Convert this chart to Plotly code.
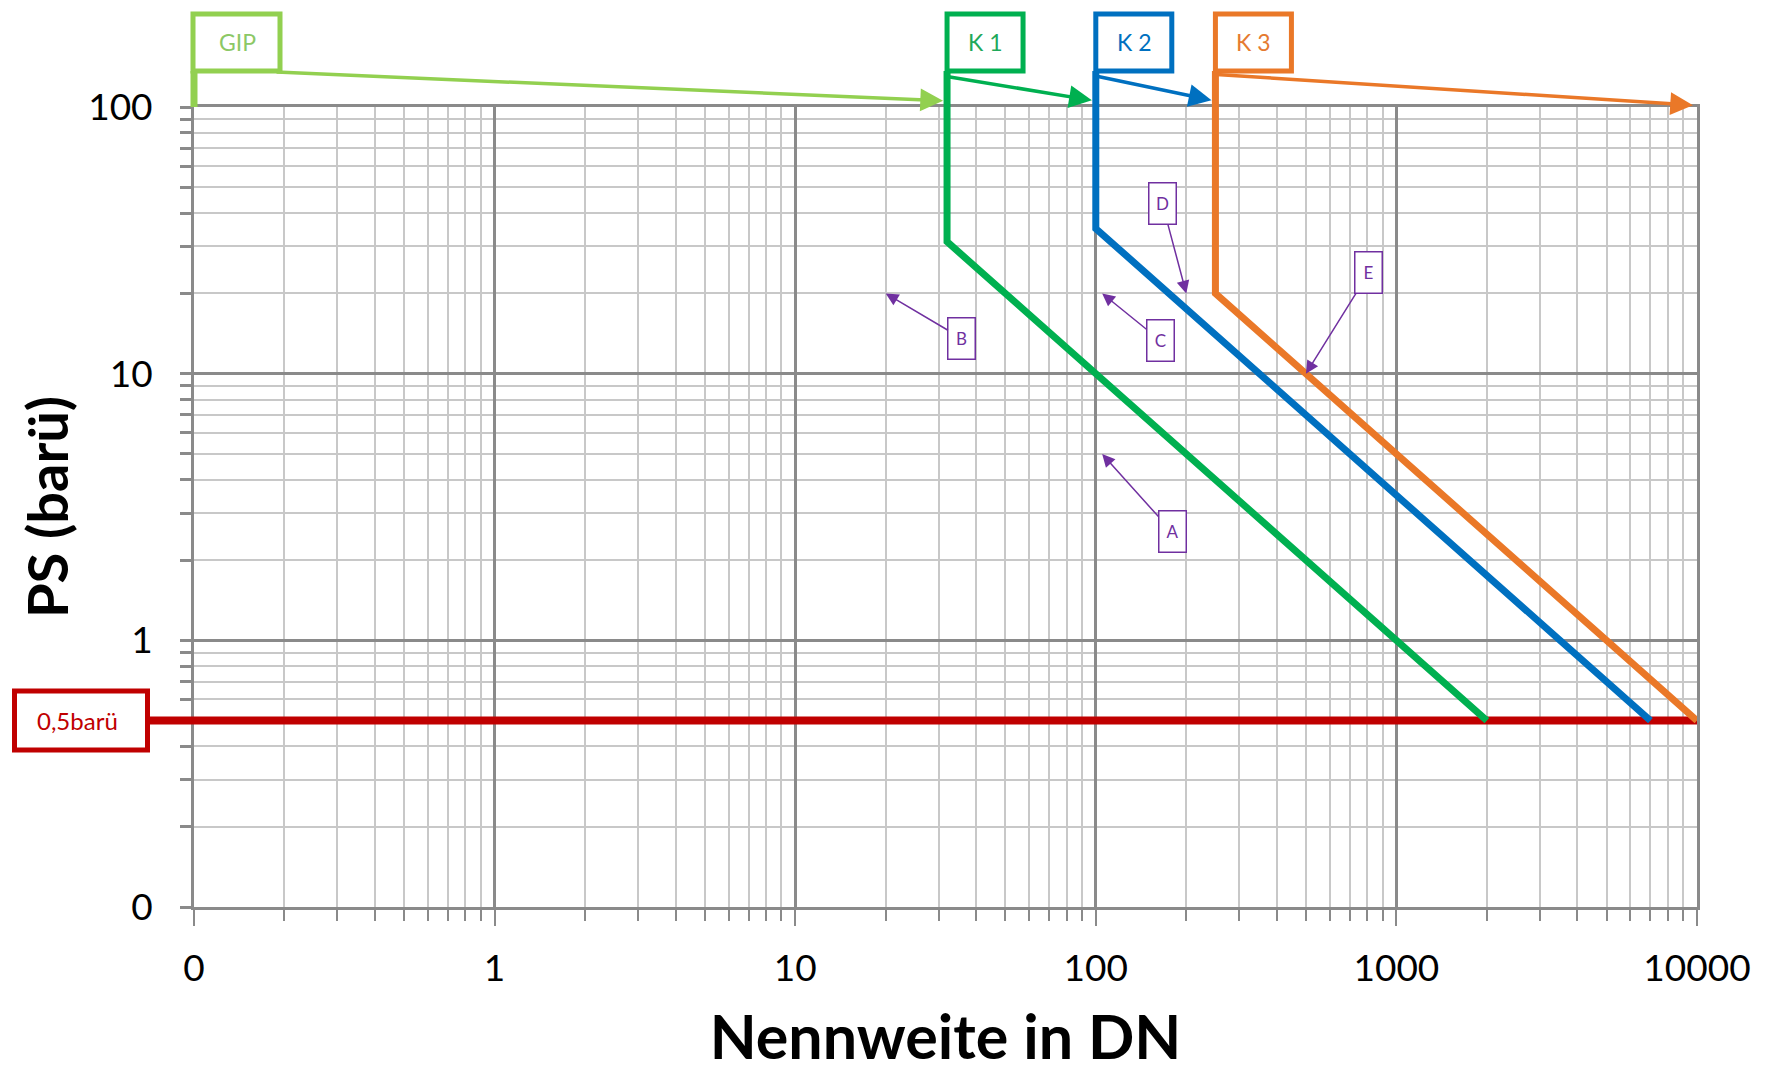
import math
import plotly.graph_objects as go

# ---------------- data ----------------
DN_K1 = [32, 32, 2000]
PS_K1 = [100, 31.25, 0.5]
DN_K2 = [100, 100, 7000]
PS_K2 = [100, 35, 0.5]
DN_K3 = [250, 250, 10000]
PS_K3 = [100, 20, 0.5]
DN_LIMIT = [0.1, 10000]
PS_LIMIT = [0.5, 0.5]

X_TICKS = [0.1, 1, 10, 100, 1000, 10000]
X_TICK_TEXT = ["0", "1", "10", "100", "1000", "10000"]
Y_TICKS = [0.1, 1, 10, 100]
Y_TICK_TEXT = ["0", "1", "10", "100"]

CAT_LABELS = ["GIP", "K 1", "K 2", "K 3"]
CAT_DN = [0.1, 32, 100, 250]          # where each category starts
CAT_ARROW_TO = [32, 100, 250, 10000]   # where each category's arrow points

MARK_LABELS = ["A", "B", "C", "D", "E"]
MARK_DN = [105, 20, 105, 200, 500]
MARK_PS = [5, 20, 20, 20, 10]

LIMIT_LABEL = "0,5barü"

# ---------------- style ----------------
FONT = "Lato"
C_GIP = "#92D050"
C_K1 = "#00B050"
C_K2 = "#0070C0"
C_K3 = "#EA7828"
C_RED = "#C00000"
C_PURPLE = "#7030A0"
CAT_COLORS = [C_GIP, C_K1, C_K2, C_K3]
CAT_TEXT_COLORS = ["#8CC866", "#1FA85A", "#0070C0", "#E57A30"]
CAT_BOX_W = [86, 76, 76, 76]
MAJOR_GRID = "#8a8a8a"
MINOR_GRID = "#c8c8c8"

Y_RANGE = [-1, 2]

minor_x = [m * 10 ** e for e in range(-1, 4) for m in range(2, 10)]
minor_y = [m * 10 ** e for e in range(-1, 2) for m in range(2, 10)]

fig = go.Figure()
fig.add_trace(go.Scatter(x=DN_LIMIT, y=PS_LIMIT, mode="lines",
                         line=dict(color=C_RED, width=8), hoverinfo="skip"))
for dn, ps, col in [(DN_K1, PS_K1, C_K1), (DN_K2, PS_K2, C_K2), (DN_K3, PS_K3, C_K3)]:
    fig.add_trace(go.Scatter(x=dn, y=ps, mode="lines",
                             line=dict(color=col, width=7), hoverinfo="skip"))

shapes = []
annotations = []

# category flags above the plot
for i, (lab, dn) in enumerate(zip(CAT_LABELS, CAT_DN)):
    col = CAT_COLORS[i]
    if i == 0:
        xr, xa = "paper", 0
    else:
        xr, xa = "x", dn
    w = CAT_BOX_W[i]
    shapes.append(dict(type="line", xref=xr, yref="paper",
                       xsizemode="pixel", xanchor=xa, x0=0, x1=0,
                       ysizemode="pixel", yanchor=1, y0=0, y1=36,
                       line=dict(color=col, width=7)))
    shapes.append(dict(type="rect", xref=xr, yref="paper",
                       xsizemode="pixel", xanchor=xa, x0=-1, x1=w,
                       ysizemode="pixel", yanchor=1, y0=36, y1=93,
                       line=dict(color=col, width=5), fillcolor="white"))
    annotations.append(dict(text=lab, xref="x", x=math.log10(dn), xanchor="center",
                            xshift=w / 2, yref="paper", y=1, yanchor="middle", yshift=65,
                            showarrow=False,
                            font=dict(family=FONT, size=23, color=CAT_TEXT_COLORS[i])))

# category arrows
arrow_geo = [(-672, -29, 1.0075), (-152, -25, 1.0075), (-120, -25, 1.0075), (-482, -31, 1.002)]
for i, tgt in enumerate(CAT_ARROW_TO):
    ax_, ay_, yy = arrow_geo[i]
    annotations.append(dict(text="", xref="x", x=math.log10(tgt), yref="paper", y=yy,
                            showarrow=True, ax=ax_, ay=ay_, arrowhead=2, arrowsize=1.3,
                            arrowwidth=3.5, arrowcolor=CAT_COLORS[i], standoff=4))

# 0,5 barü label at the left
limit_frac = (math.log10(PS_LIMIT[0]) - Y_RANGE[0]) / (Y_RANGE[1] - Y_RANGE[0])
shapes.append(dict(type="rect", xref="paper", yref="paper",
                   xsizemode="pixel", xanchor=0, x0=-179.5, x1=-46.5,
                   ysizemode="pixel", yanchor=limit_frac, y0=-29.5, y1=29.5,
                   line=dict(color=C_RED, width=5), fillcolor="white"))
shapes.append(dict(type="line", xref="paper", yref="y",
                   xsizemode="pixel", xanchor=0, x0=-46.5, x1=0,
                   y0=PS_LIMIT[0], y1=PS_LIMIT[0],
                   line=dict(color=C_RED, width=8)))
annotations.append(dict(text=LIMIT_LABEL, xref="paper", x=0, xshift=-117, xanchor="center",
                        yref="paper", y=limit_frac, yanchor="middle",
                        showarrow=False, font=dict(family=FONT, size=24, color=C_RED)))

# A..E callouts
mark_off = [(70, 78), (76, 45), (58, 47), (-24, -90), (63, -101)]
for lab, dn, ps, (ax_, ay_) in zip(MARK_LABELS, MARK_DN, MARK_PS, mark_off):
    annotations.append(dict(text=lab, xref="x", x=math.log10(dn), yref="y", y=math.log10(ps),
                            showarrow=True, ax=ax_, ay=ay_, arrowhead=2, arrowsize=1.7,
                            arrowwidth=1.5, arrowcolor=C_PURPLE,
                            bordercolor=C_PURPLE, borderwidth=1.5, borderpad=2,
                            bgcolor="white", width=22, height=36,
                            font=dict(family=FONT, size=17, color=C_PURPLE)))

fig.update_layout(
    width=1766, height=1072,
    margin=dict(l=194, r=69, t=107, b=165),
    paper_bgcolor="white", plot_bgcolor="white",
    showlegend=False,
    shapes=shapes, annotations=annotations,
    font=dict(family=FONT, color="black"),
)
fig.update_xaxes(
    type="log", range=[-1, 4], tickmode="array", tickvals=X_TICKS, ticktext=X_TICK_TEXT,
    automargin=False,
    showgrid=True, gridcolor=MAJOR_GRID, gridwidth=3, zeroline=False,
    showline=True, linecolor=MAJOR_GRID, linewidth=3, mirror=True,
    ticks="outside", ticklen=16, tickwidth=2, tickcolor=MAJOR_GRID,
    tickfont=dict(family=FONT, size=37, color="black"), ticklabelstandoff=11,
    minor=dict(tickmode="array", tickvals=minor_x, showgrid=True, gridcolor=MINOR_GRID,
               gridwidth=1.5, ticks="outside", ticklen=11, tickwidth=2, tickcolor=MAJOR_GRID),
    title=dict(text="<b>Nennweite in DN</b>", font=dict(family=FONT, size=61, color="black"),
               standoff=37),
)
fig.update_yaxes(
    type="log", range=Y_RANGE, tickmode="array", tickvals=Y_TICKS, ticktext=Y_TICK_TEXT,
    automargin=False,
    showgrid=True, gridcolor=MAJOR_GRID, gridwidth=3, zeroline=False,
    showline=True, linecolor=MAJOR_GRID, linewidth=3, mirror=True,
    ticks="outside", ticklen=11, tickwidth=3, tickcolor=MAJOR_GRID,
    tickfont=dict(family=FONT, size=37, color="black"), ticklabelstandoff=20,
    minor=dict(tickmode="array", tickvals=minor_y, showgrid=True, gridcolor=MINOR_GRID,
               gridwidth=1.5, ticks="outside", ticklen=11, tickwidth=3, tickcolor=MAJOR_GRID),
    title=dict(text="<b>PS (barü)</b>", font=dict(family=FONT, size=56, color="black"),
               standoff=2),
)

fig.write_html("out.html", config={"displayModeBar": False},
               post_script="document.body.style.margin='0';")
